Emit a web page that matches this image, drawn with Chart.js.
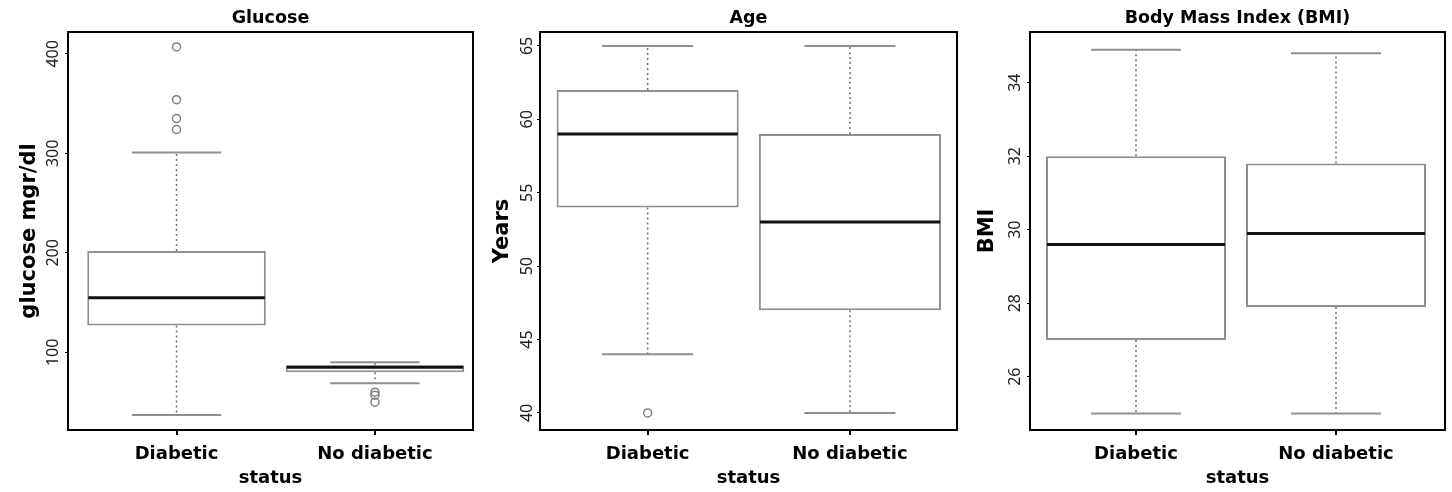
<!DOCTYPE html>
<html>
<head>
<meta charset="utf-8">
<title>Glucose, Age and BMI by status</title>
<script src="https://cdn.jsdelivr.net/npm/chart.js@4.4.1/dist/chart.umd.min.js"></script>
<style>
    html, body { margin: 0; padding: 0; background: #fff; }
    .wrap { position: relative; width: 1452px; height: 492px; }
    .panel { position: absolute; top: 0; }
    #p1 { left: 0; }
    #p2 { left: 484px; }
    #p3 { left: 968px; }
</style>
</head>
<body>
<div class="wrap">
    <div class="panel" id="p1"><canvas id="glucoseChart" width="484" height="492"></canvas></div>
    <div class="panel" id="p2"><canvas id="ageChart" width="484" height="492"></canvas></div>
    <div class="panel" id="p3"><canvas id="bmiChart" width="484" height="492"></canvas></div>
</div>
<script>
// groups on the x axis
const groups = ['Diabetic', 'No diabetic'];

// Glucose (mgr/dl)
const glucoseLow = [37, 69];
const glucoseQ1 = [127, 80];
const glucoseMedian = [155, 85];
const glucoseQ3 = [202, 87];
const glucoseHigh = [301, 90];
const glucoseOutliers = [[407, 354, 335, 324], [60, 57, 50]];
const glucoseTicks = [100, 200, 300, 400];

// Age (years)
const ageLow = [44, 40];
const ageQ1 = [54, 47];
const ageMedian = [59, 53];
const ageQ3 = [62, 59];
const ageHigh = [65, 65];
const ageOutliers = [[40], []];
const ageTicks = [40, 45, 50, 55, 60, 65];

// Body Mass Index
const bmiLow = [25, 25];
const bmiQ1 = [27, 27.9];
const bmiMedian = [29.6, 29.9];
const bmiQ3 = [32, 31.8];
const bmiHigh = [34.9, 34.8];
const bmiOutliers = [[], []];
const bmiTicks = [26, 28, 30, 32, 34];

// whiskers, caps, medians and the frame round the plot
const boxExtras = {
    id: 'boxExtras',
    beforeDatasetsDraw(chart) {
        const box = chart.data.datasets[0];
        const meta = chart.getDatasetMeta(0);
        const y = chart.scales.y;
        const ctx = chart.ctx;
        ctx.save();
        meta.data.forEach((bar, i) => {
            const cap = bar.width / 4;
            const yLow = y.getPixelForValue(box.low[i]);
            const yHigh = y.getPixelForValue(box.high[i]);
            const yQ1 = y.getPixelForValue(box.data[i].y[0]);
            const yQ3 = y.getPixelForValue(box.data[i].y[1]);

            ctx.strokeStyle = '#707070';
            ctx.lineWidth = 1.5;
            ctx.setLineDash([2, 3]);
            ctx.beginPath();
            ctx.moveTo(bar.x, yQ3); ctx.lineTo(bar.x, yHigh);
            ctx.moveTo(bar.x, yQ1); ctx.lineTo(bar.x, yLow);
            ctx.stroke();

            ctx.setLineDash([]);
            ctx.strokeStyle = '#8f8f8f';
            ctx.lineWidth = 2;
            ctx.beginPath();
            ctx.moveTo(bar.x - cap, yHigh); ctx.lineTo(bar.x + cap, yHigh);
            ctx.moveTo(bar.x - cap, yLow); ctx.lineTo(bar.x + cap, yLow);
            ctx.stroke();
        });
        ctx.restore();
    },
    afterDatasetsDraw(chart) {
        const box = chart.data.datasets[0];
        const meta = chart.getDatasetMeta(0);
        const y = chart.scales.y;
        const ctx = chart.ctx;
        ctx.save();
        ctx.strokeStyle = '#111';
        ctx.lineWidth = 3;
        meta.data.forEach((bar, i) => {
            const yMed = y.getPixelForValue(box.median[i]);
            ctx.beginPath();
            ctx.moveTo(bar.x - bar.width / 2 + 1, yMed);
            ctx.lineTo(bar.x + bar.width / 2 - 1, yMed);
            ctx.stroke();
        });

        const { left, top, right, bottom } = chart.chartArea;
        ctx.strokeStyle = '#000';
        ctx.lineWidth = 2;
        ctx.strokeRect(left, top, right - left, bottom - top);
        ctx.restore();
    }
};

function makeBoxChart(canvasId, cfg) {
    const boxData = groups.map((g, i) => ({ x: i + 1, y: [cfg.q1[i], cfg.q3[i]] }));
    const outlierData = [];
    cfg.outliers.forEach((list, i) => {
        list.forEach(v => outlierData.push({ x: i + 1, y: v }));
    });

    return new Chart(document.getElementById(canvasId), {
        type: 'bar',
        data: {
            datasets: [
                {
                    data: boxData,
                    low: cfg.low,
                    median: cfg.median,
                    high: cfg.high,
                    backgroundColor: '#fff',
                    borderColor: '#8f8f8f',
                    borderWidth: 2,
                    borderSkipped: false,
                    barPercentage: 0.9,
                    categoryPercentage: 1
                },
                {
                    type: 'scatter',
                    data: outlierData,
                    pointRadius: 4,
                    pointBorderWidth: 1.5,
                    borderColor: '#808080',
                    backgroundColor: 'rgba(0,0,0,0)'
                }
            ]
        },
        options: {
            responsive: false,
            animation: false,
            devicePixelRatio: 1,
            layout: { padding: { top: 0, right: cfg.padRight, bottom: 0, left: 0 } },
            plugins: {
                legend: { display: false },
                tooltip: { enabled: false },
                title: {
                    display: true,
                    text: cfg.title,
                    fullSize: false,
                    color: '#000',
                    font: { family: 'DejaVu Sans', size: 17.5, weight: 'bold', lineHeight: 1.2 },
                    padding: { top: 7.5, bottom: 3.5 }
                }
            },
            scales: {
                x: {
                    type: 'linear',
                    offset: false,
                    min: cfg.xMin,
                    max: cfg.xMax,
                    afterBuildTicks: s => { s.ticks = groups.map((g, i) => ({ value: i + 1 })); },
                    afterFit: s => { s.height = 62; },
                    ticks: {
                        callback: v => groups[v - 1],
                        color: '#000',
                        font: { family: 'DejaVu Sans', size: 18, weight: 'bold', lineHeight: 1.2 },
                        padding: 9,
                        maxRotation: 0,
                        autoSkip: false
                    },
                    grid: { offset: false, drawOnChartArea: false, drawTicks: true, tickLength: 5, color: '#000', lineWidth: 2 },
                    border: { display: false },
                    title: {
                        display: true,
                        text: 'status',
                        color: '#000',
                        font: { family: 'DejaVu Sans', size: 18, weight: 'bold', lineHeight: 1.2 },
                        padding: { top: 0, bottom: 3 }
                    }
                },
                y: {
                    min: cfg.yMin,
                    max: cfg.yMax,
                    afterBuildTicks: s => { s.ticks = cfg.ticks.map(v => ({ value: v })); },
                    afterFit: s => { s.width = cfg.axisWidth; },
                    ticks: {
                        minRotation: 90,
                        maxRotation: 90,
                        crossAlign: 'center',
                        padding: cfg.tickPad,
                        color: '#222',
                        font: { family: 'Noto Sans', size: 16 }
                    },
                    grid: { drawOnChartArea: false, drawTicks: true, tickLength: 3, color: '#000', lineWidth: 1 },
                    border: { display: false },
                    title: {
                        display: true,
                        text: cfg.yTitle,
                        color: '#000',
                        font: { family: 'DejaVu Sans', size: 21, weight: 'bold', lineHeight: 1.2 },
                        padding: { top: cfg.titlePad, bottom: 0 }
                    }
                }
            }
        },
        plugins: [boxExtras]
    });
}

makeBoxChart('glucoseChart', {
    title: 'Glucose', yTitle: 'glucose mgr/dl',
    low: glucoseLow, q1: glucoseQ1, median: glucoseMedian, q3: glucoseQ3, high: glucoseHigh,
    outliers: glucoseOutliers, ticks: glucoseTicks,
    yMin: 22, yMax: 422, xMin: 0.453, xMax: 2.494,
    axisWidth: 68, padRight: 11, tickPad: -2.5, titlePad: 17.4
});

makeBoxChart('ageChart', {
    title: 'Age', yTitle: 'Years',
    low: ageLow, q1: ageQ1, median: ageMedian, q3: ageQ3, high: ageHigh,
    outliers: ageOutliers, ticks: ageTicks,
    yMin: 38.84, yMax: 65.95, xMin: 0.468, xMax: 2.529,
    axisWidth: 56, padRight: 11, tickPad: 0.85, titlePad: 6.4
});

makeBoxChart('bmiChart', {
    title: 'Body Mass Index (BMI)', yTitle: 'BMI',
    low: bmiLow, q1: bmiQ1, median: bmiMedian, q3: bmiQ3, high: bmiHigh,
    outliers: bmiOutliers, ticks: bmiTicks,
    yMin: 24.55, yMax: 35.38, xMin: 0.47, xMax: 2.545,
    axisWidth: 62, padRight: 7, tickPad: 2.35, titlePad: 7.4
});
</script>
</body>
</html>
